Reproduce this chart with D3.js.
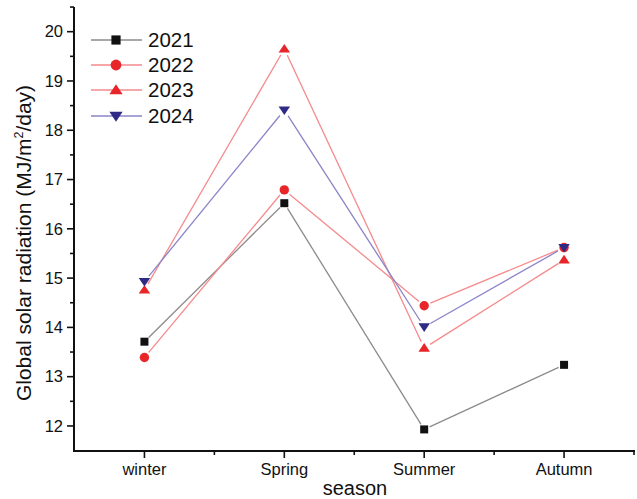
<!DOCTYPE html>
<html>
<head>
<meta charset="utf-8">
<script src="https://cdn.jsdelivr.net/npm/d3@7"></script>
<style>
  html, body { margin: 0; padding: 0; background: #fff; }
  svg { display: block; font-family: "Liberation Sans", Arial, sans-serif; }
</style>
</head>
<body>
<svg id="chart" width="637" height="499"></svg>
<script>
// Seasons on the x axis
const seasons = ["winter", "Spring", "Summer", "Autumn"];

// Mean global solar radiation per season (MJ/m²/day)
const years = ["2021", "2022", "2023", "2024"];
const values2021 = [13.71, 16.52, 11.93, 13.24];
const values2022 = [13.39, 16.79, 14.44, 15.62];
const values2023 = [14.76, 19.65, 13.58, 15.37];
const values2024 = [14.93, 18.41, 14.01, 15.62];

const yTicks = [12, 13, 14, 15, 16, 17, 18, 19, 20];

const seriesValues = [values2021, values2022, values2023, values2024];
const lineColors = ["#8f8a8a", "#f58a8c", "#f58a8c", "#8a84c8"];
const markColors = ["#111111", "#e8262a", "#e8262a", "#2f2a86"];
const markShapes = ["square", "circle", "triangle", "triangleDown"];

const svg = d3.select("#chart");

const x = d3.scaleLinear().domain([0.5, 4.5]).range([74.5, 634]);
const y = d3.scaleLinear().domain([11.5, 20.5]).range([450.6, 7.05]);
const yPix = 451; // x-axis baseline
const xPix = 74;  // y-axis line

// marker path builder (size = half-extent in px)
function markerPath(shape, s) {
  if (shape === "square") return `M${-s},${-s}h${2*s}v${2*s}h${-2*s}Z`;
  if (shape === "circle") return `M${s},0A${s},${s} 0 1,1 ${-s},0A${s},${s} 0 1,1 ${s},0Z`;
  const h = s * 1.73;
  if (shape === "triangle") return `M0,${-h*0.58}L${s*1.15},${h*0.42}L${-s*1.15},${h*0.42}Z`;
  return `M0,${h*0.58}L${s*1.15},${-h*0.42}L${-s*1.15},${-h*0.42}Z`;
}
const markSize = [4, 4.7, 5, 5];

// ---- axes ----
const axisG = svg.append("g");
// y axis
axisG.append("line").attr("x1", xPix).attr("x2", xPix)
  .attr("y1", y(20.5)).attr("y2", yPix + 1)
  .attr("stroke", "#111").attr("stroke-width", 2);
// x axis
axisG.append("line").attr("x1", xPix - 1).attr("x2", x(4.5) + 1)
  .attr("y1", yPix).attr("y2", yPix)
  .attr("stroke", "#111").attr("stroke-width", 2);

// y ticks: major at integers, minor at halves
const yMinor = d3.range(12.5, 20.6, 1);
axisG.selectAll(".ymaj").data(yTicks).join("line")
  .attr("x1", xPix - 7).attr("x2", xPix)
  .attr("y1", d => y(d)).attr("y2", d => y(d))
  .attr("stroke", "#111").attr("stroke-width", 1.6);
axisG.selectAll(".ymin").data(yMinor).join("line")
  .attr("x1", xPix - 4).attr("x2", xPix)
  .attr("y1", d => y(d)).attr("y2", d => y(d))
  .attr("stroke", "#111").attr("stroke-width", 1.6);
axisG.selectAll(".ylab").data(yTicks).join("text")
  .attr("x", xPix - 11).attr("y", d => y(d))
  .attr("dy", "0.35em").attr("text-anchor", "end")
  .attr("font-size", 16.5).attr("fill", "#111")
  .text(d => d);

// x ticks: major at categories, minor between
const xMajor = d3.range(1, 5);
const xMinor = [1.5, 2.5, 3.5, 4.5];
axisG.selectAll(".xmaj").data(xMajor).join("line")
  .attr("x1", d => x(d)).attr("x2", d => x(d))
  .attr("y1", yPix).attr("y2", yPix + 7)
  .attr("stroke", "#111").attr("stroke-width", 1.6);
axisG.selectAll(".xmin").data(xMinor).join("line")
  .attr("x1", d => x(d)).attr("x2", d => x(d))
  .attr("y1", yPix).attr("y2", yPix + 4)
  .attr("stroke", "#111").attr("stroke-width", 1.6);
axisG.selectAll(".xlab").data(seasons).join("text")
  .attr("x", (d, i) => x(i + 1)).attr("y", 475)
  .attr("text-anchor", "middle")
  .attr("font-size", 16.5).attr("fill", "#111")
  .text(d => d);

// axis titles
svg.append("text")
  .attr("x", 355).attr("y", 495)
  .attr("text-anchor", "middle")
  .attr("font-size", 20).attr("fill", "#111")
  .text("season");

const yTitle = svg.append("text")
  .attr("transform", "translate(31,243) rotate(-90)")
  .attr("text-anchor", "middle")
  .attr("font-size", 21).attr("fill", "#111");
yTitle.append("tspan").text("Global solar radiation (MJ/m");
yTitle.append("tspan").attr("font-size", 12.5).attr("dy", -8).text("2");
yTitle.append("tspan").attr("dy", 8).text("/day)");

// ---- series ----
const plotG = svg.append("g");
seriesValues.forEach((vals, si) => {
  const pts = vals.map((v, i) => [x(i + 1), y(v)]);
  // line segments stop short of the markers
  const gap = markSize[si] + 2;
  for (let i = 0; i < pts.length - 1; i++) {
    const [x1, y1] = pts[i], [x2, y2] = pts[i + 1];
    const len = Math.hypot(x2 - x1, y2 - y1);
    const ux = (x2 - x1) / len, uy = (y2 - y1) / len;
    plotG.append("line")
      .attr("x1", x1 + ux * gap).attr("y1", y1 + uy * gap)
      .attr("x2", x2 - ux * gap).attr("y2", y2 - uy * gap)
      .attr("stroke", lineColors[si]).attr("stroke-width", 1.3);
  }
});
seriesValues.forEach((vals, si) => {
  plotG.selectAll(null).data(vals).join("path")
    .attr("transform", (v, i) => `translate(${x(i + 1)},${y(v)})`)
    .attr("d", markerPath(markShapes[si], markSize[si]))
    .attr("fill", markColors[si]);
});

// ---- legend ----
const legend = svg.append("g");
const legendY = [40, 65, 90, 116];
years.forEach((yr, si) => {
  const g = legend.append("g").attr("transform", `translate(0,${legendY[si]})`);
  g.append("line").attr("x1", 91).attr("x2", 142).attr("y1", 0).attr("y2", 0)
    .attr("stroke", lineColors[si]).attr("stroke-width", 1.3);
  g.append("path").attr("transform", "translate(116,0)")
    .attr("d", markerPath(markShapes[si], markSize[si] * 1.15))
    .attr("fill", markColors[si]);
  g.append("text").attr("x", 148).attr("y", 0).attr("dy", "0.36em")
    .attr("font-size", 20.5).attr("fill", "#111").text(yr);
});
</script>
</body>
</html>
